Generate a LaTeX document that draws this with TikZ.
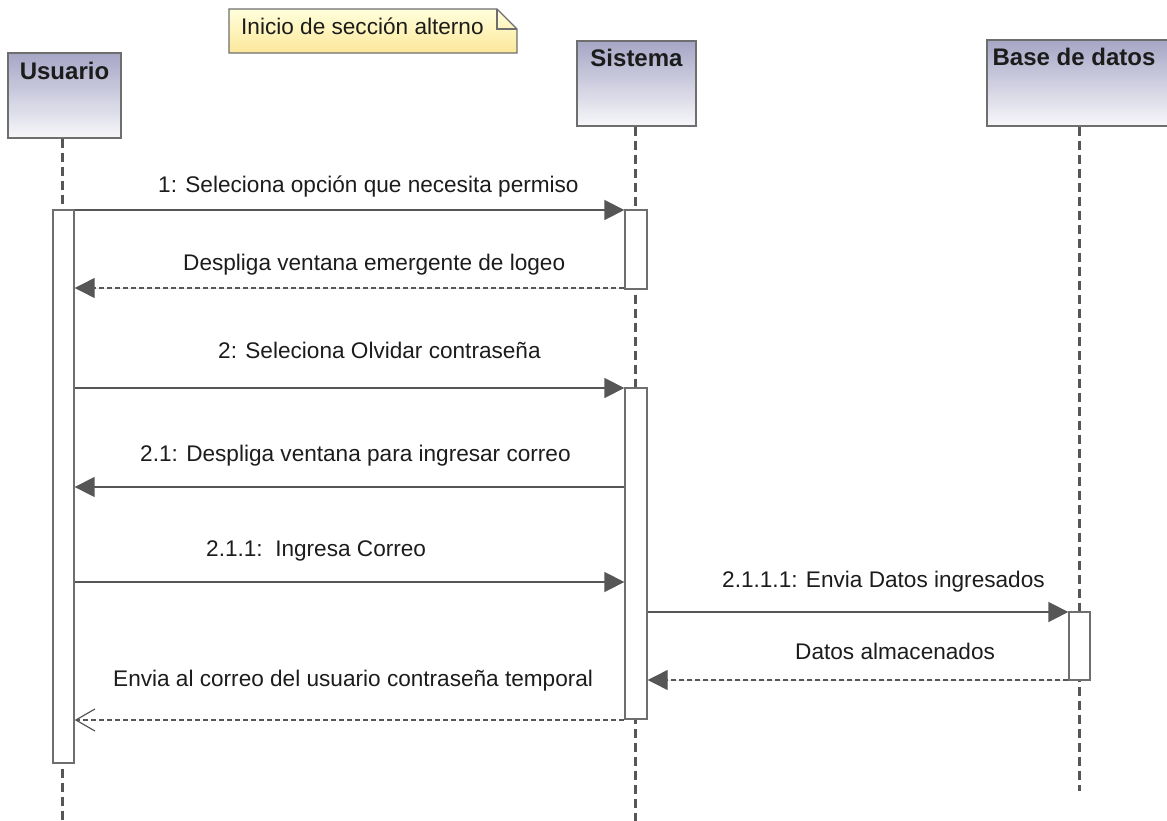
\documentclass[tikz,border=0pt]{standalone}
\usepackage{fontspec}
\setmainfont{Liberation Sans}
\usetikzlibrary{arrows.meta}

\definecolor{inkgray}{HTML}{565656}
\definecolor{boxgray}{HTML}{6E6E6E}
\definecolor{txt}{HTML}{1C1C1C}
\definecolor{headtop}{HTML}{A6A6C6}
\definecolor{headbot}{HTML}{F7F7FA}
\definecolor{notetop}{HTML}{FFFFDC}
\definecolor{notebot}{HTML}{FCE79A}

\tikzset{
  head/.style={draw=boxgray, line width=1.4pt, top color=headtop, bottom color=headbot,
    inner sep=0pt, font=\fontsize{24}{28}\selectfont\bfseries, text=txt},
  lifeline/.style={draw=inkgray, line width=3pt, dash pattern=on 9pt off 5pt},
  actbox/.style={draw=boxgray, fill=white, line width=1.4pt, minimum width=21pt, inner sep=0pt},
  lbl/.style={font=\fontsize{22.6}{26}\selectfont, text=txt, inner sep=0pt, anchor=base west},
  msg/.style={draw=inkgray, line width=1.8pt, -{Triangle[length=20pt,width=20pt]}, fill=inkgray},
  reply/.style={draw=inkgray, line width=1.2pt, dash pattern=on 5pt off 3pt,
    -{Triangle[length=20pt,width=20pt]}, fill=inkgray},
  openreply/.style={draw=inkgray, line width=1.2pt, dash pattern=on 5pt off 3pt,
    -{Straight Barb[length=19pt,width=22pt,line width=1.2pt]}},
}

\begin{document}
\begin{tikzpicture}[x=1pt,y=-1pt]
\useasboundingbox (0,0) rectangle (1167,821);

% lifeline heads
\node[head, minimum width=113pt, minimum height=85pt, text height=27pt, text depth=58pt]
  (usr) at (64.5,95.5) {Usuario};
\node[head, minimum width=119pt, minimum height=85pt, text height=26pt, text depth=59pt]
  (sys) at (636.5,83.5) {Sistema};
\node[head, minimum width=186pt, minimum height=86pt, text height=26pt, text depth=60pt]
  (db) at (1080,83) {\hspace*{-12pt}Base de datos};

% lifelines (downwards from each head)
\draw[lifeline] (usr.south -| 62,0) -- ++(0,686);
\draw[lifeline] (sys.south -| 635,0) -- ++(0,698);
\draw[lifeline] (db.south -| 1079,0) -- ++(0,664);

% activation bars
\node[actbox, minimum height=553pt] (uact) at (63.5,486.5) {};
\node[actbox, minimum height=79pt, minimum width=22pt] (sact1) at (636,249.5) {};
\node[actbox, minimum height=331pt, minimum width=22pt] (sact2) at (636,553.5) {};
\node[actbox, minimum height=68pt] (bact) at (1079.5,646) {};

% note with folded corner
\shade[top color=notetop, bottom color=notebot]
  (229,9) -- (497,9) -- (517,29) -- (517,53) -- (229,53) -- cycle;
\draw[boxgray, line width=1.4pt, line join=miter]
  (229,9) -- (497,9) -- (517,29) -- (517,53) -- (229,53) -- cycle;
\draw[boxgray, line width=1.4pt] (497,9) -- (497,29) -- (517,29);
\node[lbl] (note) at (241,35) {Inicio de sección alterno};

% messages
\draw[msg] (uact.east |- 0,210) -- (sact1.west |- 0,210);
\node[lbl] (l1) at (158,193) {1: Seleciona opción que necesita permiso};

\draw[reply] (sact1.west |- 0,288) -- (uact.east |- 0,288);
\node[lbl] (l2) at (183,270) {Despliga ventana emergente de logeo};

\draw[msg] (uact.east |- 0,388) -- (sact2.west |- 0,388);
\node[lbl] (l3) at (218,358) {2: Seleciona Olvidar contraseña};

\draw[msg] (sact2.west |- 0,487) -- (uact.east |- 0,487);
\node[lbl] (l4) at (140,461) {2.1: Despliga ventana para ingresar correo};

\draw[msg] (uact.east |- 0,582) -- (sact2.west |- 0,582);
\node[lbl] (l5) at (206,556) {2.1.1:\ \ Ingresa Correo};

\draw[msg] (sact2.east |- 0,612) -- (bact.west |- 0,612);
\node[lbl] (l6) at (722,587) {2.1.1.1: Envia Datos ingresados};

\draw[reply] (bact.west |- 0,680) -- (sact2.east |- 0,680);
\node[lbl] (l7) at (795,659) {Datos almacenados};

\draw[openreply] (sact2.west |- 0,720) -- (uact.east |- 0,720);
\node[lbl] (l8) at (113,686) {Envia al correo del usuario contraseña temporal};
\end{tikzpicture}
\end{document}
